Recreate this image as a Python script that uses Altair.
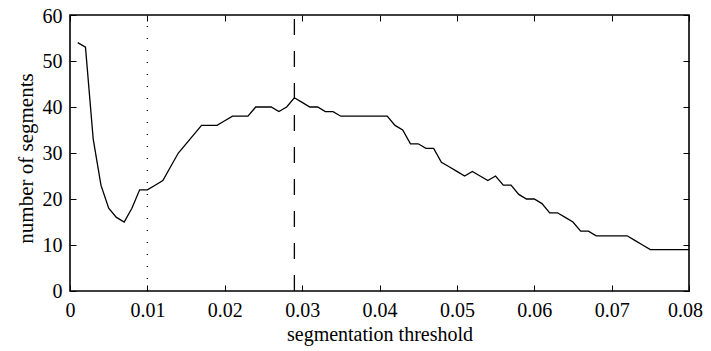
import altair as alt
import pandas as pd

# segmentation threshold (x) and number of segments (y)
thresholds = [0.001, 0.002, 0.003, 0.004, 0.005, 0.006, 0.007, 0.008, 0.009, 0.010,
              0.011, 0.012, 0.013, 0.014, 0.015, 0.016, 0.017, 0.018, 0.019, 0.020,
              0.021, 0.022, 0.023, 0.024, 0.025, 0.026, 0.027, 0.028, 0.029, 0.030,
              0.031, 0.032, 0.033, 0.034, 0.035, 0.036, 0.037, 0.038, 0.039, 0.040,
              0.041, 0.042, 0.043, 0.044, 0.045, 0.046, 0.047, 0.048, 0.049, 0.050,
              0.051, 0.052, 0.053, 0.054, 0.055, 0.056, 0.057, 0.058, 0.059, 0.060,
              0.061, 0.062, 0.063, 0.064, 0.065, 0.066, 0.067, 0.068, 0.069, 0.070,
              0.071, 0.072, 0.073, 0.074, 0.075, 0.076, 0.077, 0.078, 0.079, 0.080]
segments = [54, 53, 33, 23, 18, 16, 15, 18, 22, 22,
            23, 24, 27, 30, 32, 34, 36, 36, 36, 37,
            38, 38, 38, 40, 40, 40, 39, 40, 42, 41,
            40, 40, 39, 39, 38, 38, 38, 38, 38, 38,
            38, 36, 35, 32, 32, 31, 31, 28, 27, 26,
            25, 26, 25, 24, 25, 23, 23, 21, 20, 20,
            19, 17, 17, 16, 15, 13, 13, 12, 12, 12,
            12, 12, 11, 10, 9, 9, 9, 9, 9, 9]

x_ticks = [0, 0.01, 0.02, 0.03, 0.04, 0.05, 0.06, 0.07, 0.08]
y_ticks = [0, 10, 20, 30, 40, 50, 60]

dotted_x = [0.010]
dashed_x = [0.029]
rule_lo = [0]
rule_hi = [60]

W, H = 619, 276
FONT = "Liberation Serif"

df = pd.DataFrame({"t": thresholds, "n": segments})
df_dot = pd.DataFrame({"t": dotted_x, "lo": rule_lo, "hi": rule_hi})
df_dash = pd.DataFrame({"t": dashed_x, "lo": rule_lo, "hi": rule_hi})

xscale = alt.Scale(domain=[0, 0.08], nice=False, zero=False)
yscale = alt.Scale(domain=[0, 60], nice=False, zero=False)

common = dict(grid=False, domain=False, tickColor="black", tickWidth=1)

main_x = alt.Axis(orient="bottom", values=x_ticks, format=".2~f", ticks=False,
                  labelFont=FONT, labelFontSize=20, labelColor="black",
                  labelPadding=9, labelFlush=False,
                  labelOffset={"condition": {"test": "datum.value > 0.0795", "value": -4},
                               "value": 0},
                  title="segmentation threshold", titleFont=FONT, titleFontSize=20,
                  titleFontWeight="normal", titleColor="black", titlePadding=4,
                  grid=False, domain=False)
main_y = alt.Axis(orient="left", values=y_ticks, ticks=False,
                  labelFont=FONT, labelFontSize=20, labelColor="black",
                  labelPadding=8, labelFlush=False,
                  labelOffset={"condition": {"test": "datum.value > 59.5", "value": 1.5},
                               "value": 0},
                  title="number of segments", titleFont=FONT, titleFontSize=21,
                  titleFontWeight="normal", titleColor="black", titlePadding=6,
                  titleY=143,
                  grid=False, domain=False)

in_bottom = alt.Axis(orient="top", offset=-H, values=x_ticks, labels=False, title=None,
                     tickSize=6, **common)
in_top = alt.Axis(orient="bottom", offset=-H, values=x_ticks, labels=False, title=None,
                  tickSize=6, **common)
in_left = alt.Axis(orient="right", offset=-W, values=y_ticks, labels=False, title=None,
                   tickSize=6, **common)
in_right = alt.Axis(orient="left", offset=-W, values=y_ticks, labels=False, title=None,
                    tickSize=6, **common)

line = alt.Chart(df).mark_line(color="black", strokeWidth=1.3).encode(
    x=alt.X("t:Q", scale=xscale, axis=main_x),
    y=alt.Y("n:Q", scale=yscale, axis=main_y),
)

dotted = alt.Chart(df_dot).mark_rule(color="black", strokeWidth=1.3, strokeDash=[1, 11]).encode(
    x=alt.X("t:Q", scale=xscale, axis=in_bottom),
    y=alt.Y("lo:Q", scale=yscale, axis=in_left),
    y2="hi:Q",
)

dashed = alt.Chart(df_dash).mark_rule(color="black", strokeWidth=1.3, strokeDash=[16, 16]).encode(
    x=alt.X("t:Q", scale=xscale, axis=in_top),
    y=alt.Y("lo:Q", scale=yscale, axis=in_right),
    y2="hi:Q",
)

chart = alt.layer(line, dotted, dashed).resolve_axis(
    x="independent", y="independent"
).properties(
    width=W, height=H,
    autosize=alt.AutoSizeParams(type="none"),
    padding={"left": 62, "top": 7, "right": 14, "bottom": 60},
    background="white",
).configure_view(stroke="black", strokeWidth=1.6)

chart.save("out.html", embed_options={"renderer": "svg", "actions": False})
